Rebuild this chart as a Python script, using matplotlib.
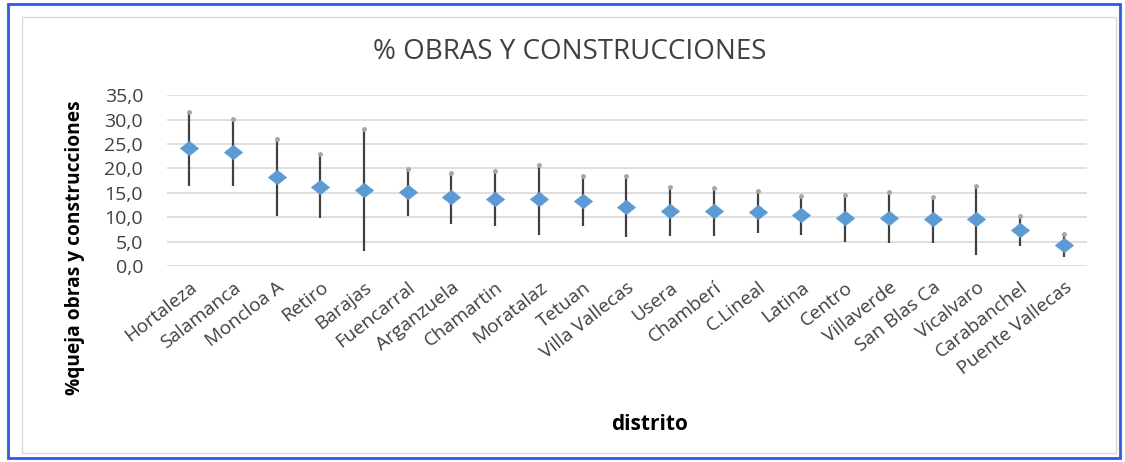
import matplotlib
matplotlib.use("Agg")
import matplotlib.pyplot as plt
from matplotlib.patches import Rectangle
from matplotlib.path import Path
from matplotlib.ticker import FuncFormatter, MultipleLocator

plt.rcParams['font.family'] = ['Open Sans', 'DejaVu Sans']

distritos = ["Hortaleza", "Salamanca", "Moncloa A", "Retiro", "Barajas", "Fuencarral",
             "Arganzuela", "Chamartin", "Moratalaz", "Tetuan", "Villa Vallecas", "Usera",
             "Chamberí", "C.Lineal", "Latina", "Centro", "Villaverde", "San Blas Ca",
             "Vicalvaro", "Carabanchel", "Puente Vallecas"]
valor = [24.2, 23.4, 18.3, 16.3, 15.5, 15.2, 14.1, 13.7, 13.8, 13.3, 12.1, 11.2,
         11.3, 11.0, 10.5, 9.8, 9.8, 9.6, 9.6, 7.3, 4.4]
superior = [31.5, 30.1, 26.1, 23.0, 28.1, 19.9, 19.0, 19.4, 20.7, 18.4, 18.4, 16.3,
            15.9, 15.4, 14.3, 14.5, 15.1, 14.2, 16.5, 10.3, 6.6]
inferior = [16.5, 16.5, 10.3, 9.8, 3.0, 10.3, 8.7, 8.1, 6.4, 8.1, 5.9, 6.1,
            6.1, 6.7, 6.4, 5.0, 4.7, 4.7, 2.2, 4.2, 1.9]

W, H = 1125, 462
fig = plt.figure(figsize=(W / 100, H / 100), dpi=100)

# outer blue frame and inner grey frame
fig.patches.append(Rectangle((8 / W, 4 / H), (1120 - 8) / W, (458 - 4) / H,
                             transform=fig.transFigure, fill=False,
                             edgecolor="#2F55F5", linewidth=2))
fig.patches.append(Rectangle((22 / W, (H - 453) / H), (1116 - 22) / W, (453 - 17) / H,
                             transform=fig.transFigure, fill=False,
                             edgecolor="#D9D9D9", linewidth=1))

left, right = 166.7 / W, 1086.7 / W
bottom, top = (H - 266) / H, (H - 95.3) / H
ax = fig.add_axes([left, bottom, right - left, top - bottom])

diamond = Path([(-1, 0), (0, 0.8), (1, 0), (0, -0.8), (-1, 0)],
               [Path.MOVETO, Path.LINETO, Path.LINETO, Path.LINETO, Path.CLOSEPOLY])

x = list(range(len(distritos)))
ax.vlines(x, inferior, superior, color="#404040", linewidth=1.6, zorder=2)
ax.plot(x, superior, linestyle="none", marker="o", markersize=2.5,
        color="#A6A6A6", zorder=3)
ax.plot(x, valor, linestyle="none", marker=diamond, markersize=13,
        color="#5B9BD5", markeredgecolor="#5B9BD5", markeredgewidth=0.5, zorder=4)

ax.set_xlim(-0.51, 20.52)
ax.set_ylim(0, 35)
ax.yaxis.set_major_locator(MultipleLocator(5))
ax.yaxis.set_major_formatter(FuncFormatter(lambda v, p: f"{v:.1f}".replace(".", ",")))
ax.grid(axis="y", color="#D9D9D9", linewidth=1.2)
ax.set_axisbelow(True)
for s in ax.spines.values():
    s.set_visible(False)
ax.tick_params(axis="both", length=0)
ax.tick_params(axis="y", labelsize=14, labelcolor="#404040", pad=17)
ax.set_xticks(x)
ax.set_xticklabels(distritos, rotation=38, ha="right", rotation_mode="anchor",
                   fontsize=13.8, color="#404040")
ax.tick_params(axis="x", pad=9)

fig.text(570 / W, (H - 52) / H, "% OBRAS Y CONSTRUCCIONES", ha="center", va="center",
         fontsize=20, color="#404040")
fig.text(75 / W, (H - 248) / H, "%queja obras y construcciones", ha="center", va="center",
         rotation=90, fontsize=13.8, fontweight="bold", color="black")
fig.text(650 / W, (H - 425) / H, "distrito", ha="center", va="center",
         fontsize=15, fontweight="bold", color="black")

fig.savefig("out.png", dpi=100)
